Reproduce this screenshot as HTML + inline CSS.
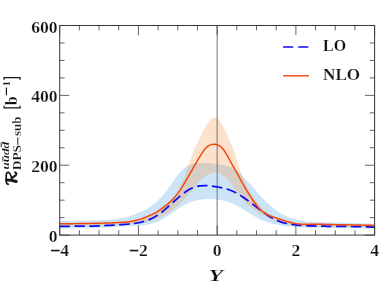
<!DOCTYPE html>
<html><head><meta charset="utf-8"><title>plot</title>
<style>
html,body{margin:0;padding:0;background:#fff;}
body{width:381px;height:288px;overflow:hidden;font-family:"Liberation Serif",serif;}
svg{display:block;will-change:transform;}
</style></head><body>
<svg width="381" height="288" viewBox="0 0 381 288">
<rect width="381" height="288" fill="#fff"/>
<clipPath id="c"><rect x="59.7" y="25.5" width="316.40000000000003" height="209.6"/></clipPath>
<g clip-path="url(#c)">
<path d="M59.70,221.13 L61.67,221.10 L63.64,221.07 L65.60,221.04 L67.57,221.00 L69.54,220.97 L71.51,220.94 L73.48,220.90 L75.44,220.86 L77.41,220.82 L79.38,220.78 L81.35,220.73 L83.32,220.69 L85.29,220.64 L87.25,220.59 L89.22,220.54 L91.19,220.49 L93.16,220.43 L95.13,220.37 L97.09,220.31 L99.06,220.25 L101.03,220.19 L103.00,220.12 L104.97,220.03 L106.94,219.93 L108.90,219.81 L110.87,219.66 L112.84,219.47 L114.81,219.25 L116.78,218.99 L118.74,218.68 L120.71,218.32 L122.68,217.91 L124.65,217.45 L126.62,216.94 L128.58,216.38 L130.55,215.77 L132.52,215.12 L134.49,214.43 L136.46,213.69 L138.43,212.92 L140.39,212.10 L142.36,211.21 L144.33,210.25 L146.30,209.19 L148.27,208.01 L150.23,206.69 L152.20,205.23 L154.17,203.64 L156.14,201.92 L158.11,200.08 L160.07,198.13 L162.04,196.06 L164.01,193.86 L165.98,191.50 L167.95,188.97 L169.92,186.24 L171.88,183.35 L173.85,180.42 L175.82,177.58 L177.79,174.95 L179.76,172.61 L181.72,170.54 L183.69,168.73 L185.66,167.18 L187.63,165.89 L189.60,164.88 L191.56,164.14 L193.53,163.62 L195.50,163.29 L197.47,163.09 L199.44,162.98 L201.41,162.93 L203.37,162.91 L205.34,162.93 L207.31,162.99 L209.28,163.10 L211.25,163.25 L213.21,163.45 L215.18,163.70 L217.15,164.00 L219.12,164.33 L221.09,164.71 L223.05,165.11 L225.02,165.55 L226.99,166.01 L228.96,166.55 L230.93,167.22 L232.90,168.07 L234.86,169.16 L236.83,170.53 L238.80,172.25 L240.77,174.24 L242.74,176.38 L244.70,178.51 L246.67,180.52 L248.64,182.48 L250.61,184.50 L252.58,186.68 L254.54,188.99 L256.51,191.34 L258.48,193.65 L260.45,195.88 L262.42,198.01 L264.39,200.03 L266.35,201.94 L268.32,203.76 L270.29,205.51 L272.26,207.19 L274.23,208.80 L276.19,210.30 L278.16,211.67 L280.13,212.93 L282.10,214.06 L284.07,215.09 L286.03,216.02 L288.00,216.86 L289.97,217.60 L291.94,218.27 L293.91,218.86 L295.88,219.38 L297.84,219.84 L299.81,220.25 L301.78,220.60 L303.75,220.91 L305.72,221.17 L307.68,221.40 L309.65,221.59 L311.62,221.75 L313.59,221.89 L315.56,222.00 L317.52,222.10 L319.49,222.18 L321.46,222.24 L323.43,222.30 L325.40,222.35 L327.37,222.39 L329.33,222.42 L331.30,222.46 L333.27,222.49 L335.24,222.52 L337.21,222.56 L339.17,222.60 L341.14,222.64 L343.11,222.69 L345.08,222.74 L347.05,222.80 L349.01,222.85 L350.98,222.92 L352.95,222.98 L354.92,223.05 L356.89,223.12 L358.86,223.19 L360.82,223.27 L362.79,223.36 L364.76,223.44 L366.73,223.53 L368.70,223.62 L370.66,223.72 L372.63,223.82 L374.60,223.92 L374.60,228.46 L372.63,228.44 L370.66,228.42 L368.70,228.40 L366.73,228.39 L364.76,228.37 L362.79,228.35 L360.82,228.34 L358.86,228.32 L356.89,228.30 L354.92,228.29 L352.95,228.27 L350.98,228.26 L349.01,228.24 L347.05,228.22 L345.08,228.21 L343.11,228.19 L341.14,228.17 L339.17,228.15 L337.21,228.13 L335.24,228.11 L333.27,228.09 L331.30,228.07 L329.33,228.04 L327.37,228.02 L325.40,227.99 L323.43,227.95 L321.46,227.91 L319.49,227.87 L317.52,227.82 L315.56,227.76 L313.59,227.70 L311.62,227.63 L309.65,227.56 L307.68,227.48 L305.72,227.40 L303.75,227.31 L301.78,227.21 L299.81,227.11 L297.84,227.00 L295.88,226.89 L293.91,226.77 L291.94,226.65 L289.97,226.51 L288.00,226.34 L286.03,226.15 L284.07,225.93 L282.10,225.67 L280.13,225.37 L278.16,225.02 L276.19,224.62 L274.23,224.16 L272.26,223.64 L270.29,223.08 L268.32,222.48 L266.35,221.83 L264.39,221.14 L262.42,220.38 L260.45,219.55 L258.48,218.63 L256.51,217.61 L254.54,216.49 L252.58,215.31 L250.61,214.07 L248.64,212.81 L246.67,211.53 L244.70,210.27 L242.74,209.04 L240.77,207.85 L238.80,206.71 L236.83,205.64 L234.86,204.65 L232.90,203.75 L230.93,202.94 L228.96,202.23 L226.99,201.60 L225.02,201.06 L223.05,200.59 L221.09,200.18 L219.12,199.82 L217.15,199.52 L215.18,199.28 L213.21,199.10 L211.25,198.98 L209.28,198.93 L207.31,198.95 L205.34,199.05 L203.37,199.22 L201.41,199.46 L199.44,199.78 L197.47,200.17 L195.50,200.63 L193.53,201.17 L191.56,201.81 L189.60,202.55 L187.63,203.40 L185.66,204.37 L183.69,205.44 L181.72,206.60 L179.76,207.82 L177.79,209.11 L175.82,210.43 L173.85,211.78 L171.88,213.14 L169.92,214.50 L167.95,215.82 L165.98,217.11 L164.01,218.33 L162.04,219.48 L160.07,220.54 L158.11,221.48 L156.14,222.29 L154.17,222.99 L152.20,223.58 L150.23,224.07 L148.27,224.48 L146.30,224.82 L144.33,225.10 L142.36,225.32 L140.39,225.51 L138.43,225.67 L136.46,225.81 L134.49,225.94 L132.52,226.05 L130.55,226.16 L128.58,226.25 L126.62,226.35 L124.65,226.44 L122.68,226.53 L120.71,226.62 L118.74,226.72 L116.78,226.82 L114.81,226.92 L112.84,227.03 L110.87,227.14 L108.90,227.25 L106.94,227.36 L104.97,227.47 L103.00,227.58 L101.03,227.67 L99.06,227.76 L97.09,227.85 L95.13,227.92 L93.16,227.99 L91.19,228.05 L89.22,228.10 L87.25,228.15 L85.29,228.19 L83.32,228.23 L81.35,228.26 L79.38,228.29 L77.41,228.31 L75.44,228.33 L73.48,228.35 L71.51,228.37 L69.54,228.39 L67.57,228.40 L65.60,228.42 L63.64,228.43 L61.67,228.45 L59.70,228.46Z" fill="#3498db" fill-opacity="0.25"/>
<path d="M59.70,223.22 L61.67,223.22 L63.64,223.21 L65.60,223.19 L67.57,223.18 L69.54,223.16 L71.51,223.14 L73.48,223.12 L75.44,223.10 L77.41,223.07 L79.38,223.05 L81.35,223.02 L83.32,222.99 L85.29,222.96 L87.25,222.93 L89.22,222.89 L91.19,222.85 L93.16,222.82 L95.13,222.78 L97.09,222.74 L99.06,222.70 L101.03,222.66 L103.00,222.61 L104.97,222.56 L106.94,222.51 L108.90,222.45 L110.87,222.38 L112.84,222.30 L114.81,222.22 L116.78,222.11 L118.74,222.00 L120.71,221.87 L122.68,221.72 L124.65,221.54 L126.62,221.33 L128.58,221.08 L130.55,220.78 L132.52,220.43 L134.49,220.03 L136.46,219.56 L138.43,219.03 L140.39,218.42 L142.36,217.75 L144.33,217.02 L146.30,216.24 L148.27,215.42 L150.23,214.56 L152.20,213.67 L154.17,212.70 L156.14,211.65 L158.11,210.47 L160.07,209.16 L162.04,207.74 L164.01,206.20 L165.98,204.57 L167.95,202.81 L169.92,200.87 L171.88,198.72 L173.85,196.36 L175.82,193.80 L177.79,191.00 L179.76,187.77 L181.72,183.84 L183.69,179.05 L185.66,173.62 L187.63,167.82 L189.60,161.95 L191.56,156.28 L193.53,151.08 L195.50,146.60 L197.47,142.73 L199.44,138.84 L201.41,134.78 L203.37,130.75 L205.34,127.00 L207.31,123.72 L209.28,121.04 L211.25,119.07 L213.21,117.95 L215.18,117.78 L217.15,118.61 L219.12,120.36 L221.09,122.95 L223.05,126.32 L225.02,130.35 L226.99,134.78 L228.96,139.26 L230.93,143.49 L232.90,148.01 L234.86,153.66 L236.83,159.99 L238.80,166.31 L240.77,172.22 L242.74,177.48 L244.70,182.10 L246.67,186.13 L248.64,189.69 L250.61,192.95 L252.58,196.06 L254.54,199.02 L256.51,201.77 L258.48,204.27 L260.45,206.52 L262.42,208.53 L264.39,210.30 L266.35,211.83 L268.32,213.16 L270.29,214.32 L272.26,215.34 L274.23,216.26 L276.19,217.11 L278.16,217.92 L280.13,218.70 L282.10,219.43 L284.07,220.11 L286.03,220.75 L288.00,221.33 L289.97,221.86 L291.94,222.32 L293.91,222.72 L295.88,223.05 L297.84,223.30 L299.81,223.50 L301.78,223.63 L303.75,223.72 L305.72,223.77 L307.68,223.79 L309.65,223.79 L311.62,223.77 L313.59,223.76 L315.56,223.75 L317.52,223.75 L319.49,223.76 L321.46,223.79 L323.43,223.82 L325.40,223.86 L327.37,223.90 L329.33,223.95 L331.30,224.00 L333.27,224.05 L335.24,224.10 L337.21,224.14 L339.17,224.18 L341.14,224.22 L343.11,224.25 L345.08,224.28 L347.05,224.32 L349.01,224.35 L350.98,224.38 L352.95,224.41 L354.92,224.45 L356.89,224.48 L358.86,224.52 L360.82,224.56 L362.79,224.60 L364.76,224.65 L366.73,224.70 L368.70,224.76 L370.66,224.82 L372.63,224.89 L374.60,224.97 L374.60,227.07 L372.63,226.98 L370.66,226.91 L368.70,226.85 L366.73,226.81 L364.76,226.77 L362.79,226.75 L360.82,226.73 L358.86,226.72 L356.89,226.72 L354.92,226.72 L352.95,226.72 L350.98,226.73 L349.01,226.73 L347.05,226.74 L345.08,226.75 L343.11,226.75 L341.14,226.75 L339.17,226.74 L337.21,226.73 L335.24,226.72 L333.27,226.69 L331.30,226.66 L329.33,226.62 L327.37,226.58 L325.40,226.54 L323.43,226.50 L321.46,226.46 L319.49,226.42 L317.52,226.39 L315.56,226.37 L313.59,226.35 L311.62,226.34 L309.65,226.32 L307.68,226.30 L305.72,226.26 L303.75,226.20 L301.78,226.12 L299.81,226.01 L297.84,225.86 L295.88,225.67 L293.91,225.43 L291.94,225.14 L289.97,224.81 L288.00,224.43 L286.03,224.00 L284.07,223.52 L282.10,223.00 L280.13,222.42 L278.16,221.80 L276.19,221.13 L274.23,220.41 L272.26,219.63 L270.29,218.81 L268.32,217.93 L266.35,216.99 L264.39,215.99 L262.42,214.93 L260.45,213.80 L258.48,212.61 L256.51,211.35 L254.54,210.01 L252.58,208.58 L250.61,207.06 L248.64,205.42 L246.67,203.66 L244.70,201.75 L242.74,199.68 L240.77,197.40 L238.80,194.90 L236.83,192.13 L234.86,189.14 L232.90,186.16 L230.93,183.41 L228.96,181.01 L226.99,178.95 L225.02,177.11 L223.05,175.40 L221.09,173.97 L219.12,172.99 L217.15,172.50 L215.18,172.45 L213.21,172.76 L211.25,173.32 L209.28,174.10 L207.31,175.10 L205.34,176.34 L203.37,177.82 L201.41,179.55 L199.44,181.54 L197.47,183.75 L195.50,186.10 L193.53,188.51 L191.56,190.88 L189.60,193.19 L187.63,195.42 L185.66,197.59 L183.69,199.67 L181.72,201.67 L179.76,203.59 L177.79,205.41 L175.82,207.13 L173.85,208.75 L171.88,210.28 L169.92,211.71 L167.95,213.05 L165.98,214.29 L164.01,215.44 L162.04,216.50 L160.07,217.46 L158.11,218.33 L156.14,219.11 L154.17,219.81 L152.20,220.43 L150.23,220.98 L148.27,221.47 L146.30,221.90 L144.33,222.29 L142.36,222.63 L140.39,222.94 L138.43,223.22 L136.46,223.48 L134.49,223.72 L132.52,223.94 L130.55,224.15 L128.58,224.33 L126.62,224.49 L124.65,224.64 L122.68,224.77 L120.71,224.88 L118.74,224.97 L116.78,225.04 L114.81,225.11 L112.84,225.15 L110.87,225.19 L108.90,225.22 L106.94,225.24 L104.97,225.26 L103.00,225.28 L101.03,225.30 L99.06,225.32 L97.09,225.34 L95.13,225.37 L93.16,225.41 L91.19,225.44 L89.22,225.48 L87.25,225.52 L85.29,225.56 L83.32,225.60 L81.35,225.63 L79.38,225.67 L77.41,225.70 L75.44,225.72 L73.48,225.74 L71.51,225.76 L69.54,225.77 L67.57,225.77 L65.60,225.76 L63.64,225.74 L61.67,225.71 L59.70,225.67Z" fill="#f58a2e" fill-opacity="0.25"/>
<path d="M217.15,235.1 V25.5" stroke="#5e5e5e" stroke-width="0.85" fill="none"/>
<path d="M59.70,226.37 L61.67,226.33 L63.64,226.31 L65.60,226.28 L67.57,226.26 L69.54,226.25 L71.51,226.24 L73.48,226.22 L75.44,226.21 L77.41,226.20 L79.38,226.19 L81.35,226.18 L83.32,226.16 L85.29,226.14 L87.25,226.12 L89.22,226.09 L91.19,226.06 L93.16,226.02 L95.13,225.97 L97.09,225.91 L99.06,225.84 L101.03,225.77 L103.00,225.68 L104.97,225.59 L106.94,225.49 L108.90,225.38 L110.87,225.27 L112.84,225.15 L114.81,225.04 L116.78,224.92 L118.74,224.79 L120.71,224.67 L122.68,224.55 L124.65,224.41 L126.62,224.25 L128.58,224.08 L130.55,223.88 L132.52,223.64 L134.49,223.37 L136.46,223.06 L138.43,222.70 L140.39,222.28 L142.36,221.81 L144.33,221.26 L146.30,220.64 L148.27,219.93 L150.23,219.13 L152.20,218.23 L154.17,217.22 L156.14,216.09 L158.11,214.84 L160.07,213.46 L162.04,211.96 L164.01,210.37 L165.98,208.69 L167.95,206.96 L169.92,205.19 L171.88,203.40 L173.85,201.60 L175.82,199.82 L177.79,198.07 L179.76,196.37 L181.72,194.74 L183.69,193.20 L185.66,191.77 L187.63,190.46 L189.60,189.29 L191.56,188.27 L193.53,187.44 L195.50,186.79 L197.47,186.31 L199.44,185.97 L201.41,185.77 L203.37,185.67 L205.34,185.67 L207.31,185.74 L209.28,185.87 L211.25,186.06 L213.21,186.30 L215.18,186.58 L217.15,186.89 L219.12,187.24 L221.09,187.62 L223.05,188.05 L225.02,188.54 L226.99,189.10 L228.96,189.74 L230.93,190.47 L232.90,191.31 L234.86,192.24 L236.83,193.28 L238.80,194.41 L240.77,195.62 L242.74,196.92 L244.70,198.28 L246.67,199.69 L248.64,201.15 L250.61,202.63 L252.58,204.13 L254.54,205.64 L256.51,207.15 L258.48,208.66 L260.45,210.14 L262.42,211.59 L264.39,213.00 L266.35,214.37 L268.32,215.67 L270.29,216.90 L272.26,218.06 L274.23,219.12 L276.19,220.08 L278.16,220.93 L280.13,221.68 L282.10,222.34 L284.07,222.91 L286.03,223.40 L288.00,223.82 L289.97,224.18 L291.94,224.49 L293.91,224.75 L295.88,224.97 L297.84,225.16 L299.81,225.33 L301.78,225.47 L303.75,225.59 L305.72,225.69 L307.68,225.78 L309.65,225.85 L311.62,225.91 L313.59,225.97 L315.56,226.02 L317.52,226.06 L319.49,226.11 L321.46,226.15 L323.43,226.19 L325.40,226.23 L327.37,226.26 L329.33,226.29 L331.30,226.32 L333.27,226.35 L335.24,226.37 L337.21,226.39 L339.17,226.40 L341.14,226.42 L343.11,226.43 L345.08,226.44 L347.05,226.46 L349.01,226.47 L350.98,226.49 L352.95,226.51 L354.92,226.54 L356.89,226.57 L358.86,226.61 L360.82,226.66 L362.79,226.71 L364.76,226.77 L366.73,226.84 L368.70,226.92 L370.66,227.02 L372.63,227.12 L374.60,227.24" stroke="#0c0cf4" stroke-width="1.75" fill="none" stroke-dasharray="10.35 4.56" stroke-dashoffset="0.1"/>
<path d="M59.70,223.75 L61.67,223.74 L63.64,223.72 L65.60,223.71 L67.57,223.70 L69.54,223.68 L71.51,223.66 L73.48,223.64 L75.44,223.62 L77.41,223.60 L79.38,223.57 L81.35,223.55 L83.32,223.52 L85.29,223.49 L87.25,223.46 L89.22,223.42 L91.19,223.39 L93.16,223.35 L95.13,223.31 L97.09,223.27 L99.06,223.22 L101.03,223.18 L103.00,223.13 L104.97,223.07 L106.94,223.02 L108.90,222.95 L110.87,222.88 L112.84,222.81 L114.81,222.72 L116.78,222.63 L118.74,222.52 L120.71,222.41 L122.68,222.27 L124.65,222.12 L126.62,221.93 L128.58,221.70 L130.55,221.42 L132.52,221.09 L134.49,220.71 L136.46,220.26 L138.43,219.73 L140.39,219.13 L142.36,218.45 L144.33,217.72 L146.30,216.94 L148.27,216.12 L150.23,215.27 L152.20,214.38 L154.17,213.42 L156.14,212.36 L158.11,211.17 L160.07,209.84 L162.04,208.40 L164.01,206.91 L165.98,205.41 L167.95,203.84 L169.92,202.15 L171.88,200.29 L173.85,198.19 L175.82,195.87 L177.79,193.32 L179.76,190.57 L181.72,187.61 L183.69,184.47 L185.66,181.17 L187.63,177.76 L189.60,174.28 L191.56,170.79 L193.53,167.35 L195.50,163.98 L197.47,160.67 L199.44,157.41 L201.41,154.18 L203.37,151.15 L205.34,148.56 L207.31,146.62 L209.28,145.33 L211.25,144.58 L213.21,144.28 L215.18,144.33 L217.15,144.71 L219.12,145.55 L221.09,146.95 L223.05,149.04 L225.02,151.80 L226.99,155.05 L228.96,158.60 L230.93,162.24 L232.90,165.80 L234.86,169.23 L236.83,172.72 L238.80,176.37 L240.77,180.09 L242.74,183.74 L244.70,187.20 L246.67,190.44 L248.64,193.54 L250.61,196.58 L252.58,199.60 L254.54,202.52 L256.51,205.24 L258.48,207.68 L260.45,209.75 L262.42,211.49 L264.39,212.94 L266.35,214.14 L268.32,215.14 L270.29,215.98 L272.26,216.70 L274.23,217.35 L276.19,217.98 L278.16,218.62 L280.13,219.27 L282.10,219.92 L284.07,220.55 L286.03,221.17 L288.00,221.75 L289.97,222.30 L291.94,222.79 L293.91,223.22 L295.88,223.57 L297.84,223.85 L299.81,224.05 L301.78,224.20 L303.75,224.29 L305.72,224.33 L307.68,224.35 L309.65,224.34 L311.62,224.32 L313.59,224.29 L315.56,224.27 L317.52,224.27 L319.49,224.28 L321.46,224.30 L323.43,224.33 L325.40,224.37 L327.37,224.42 L329.33,224.47 L331.30,224.52 L333.27,224.57 L335.24,224.62 L337.21,224.67 L339.17,224.71 L341.14,224.74 L343.11,224.78 L345.08,224.81 L347.05,224.84 L349.01,224.87 L350.98,224.91 L352.95,224.94 L354.92,224.97 L356.89,225.00 L358.86,225.04 L360.82,225.08 L362.79,225.12 L364.76,225.17 L366.73,225.22 L368.70,225.28 L370.66,225.34 L372.63,225.42 L374.60,225.49" stroke="#f6440c" stroke-width="1.45" fill="none"/>
</g>
<path d="M59.70,235.1 v-9.7 M59.70,25.5 v9.7 M79.38,235.1 v-4.9 M79.38,25.5 v4.9 M99.06,235.1 v-4.9 M99.06,25.5 v4.9 M118.74,235.1 v-4.9 M118.74,25.5 v4.9 M138.43,235.1 v-9.7 M138.43,25.5 v9.7 M158.11,235.1 v-4.9 M158.11,25.5 v4.9 M177.79,235.1 v-4.9 M177.79,25.5 v4.9 M197.47,235.1 v-4.9 M197.47,25.5 v4.9 M217.15,235.1 v-9.7 M217.15,25.5 v9.7 M236.83,235.1 v-4.9 M236.83,25.5 v4.9 M256.51,235.1 v-4.9 M256.51,25.5 v4.9 M276.19,235.1 v-4.9 M276.19,25.5 v4.9 M295.88,235.1 v-9.7 M295.88,25.5 v9.7 M315.56,235.1 v-4.9 M315.56,25.5 v4.9 M335.24,235.1 v-4.9 M335.24,25.5 v4.9 M354.92,235.1 v-4.9 M354.92,25.5 v4.9 M374.60,235.1 v-9.7 M374.60,25.5 v9.7 M59.7,235.10 h9.7 M374.6,235.10 h-9.7 M59.7,217.63 h4.9 M374.6,217.63 h-4.9 M59.7,200.17 h4.9 M374.6,200.17 h-4.9 M59.7,182.70 h4.9 M374.6,182.70 h-4.9 M59.7,165.23 h9.7 M374.6,165.23 h-9.7 M59.7,147.77 h4.9 M374.6,147.77 h-4.9 M59.7,130.30 h4.9 M374.6,130.30 h-4.9 M59.7,112.83 h4.9 M374.6,112.83 h-4.9 M59.7,95.37 h9.7 M374.6,95.37 h-9.7 M59.7,77.90 h4.9 M374.6,77.90 h-4.9 M59.7,60.43 h4.9 M374.6,60.43 h-4.9 M59.7,42.97 h4.9 M374.6,42.97 h-4.9 M59.7,25.50 h9.7 M374.6,25.50 h-9.7" stroke="#3d3d3d" stroke-width="0.8" fill="none"/>
<rect x="59.7" y="25.5" width="314.90000000000003" height="209.6" fill="none" stroke="#3d3d3d" stroke-width="1.05"/>
<path d="M283.1,46.9 h10.1 m5,0 h10.1" stroke="#0c0cf4" stroke-width="1.5" fill="none"/>
<path d="M283.1,75.8 h25.9" stroke="#f6440c" stroke-width="1.4" fill="none"/>
<g font-family="Liberation Serif, serif" font-weight="bold" fill="#111" stroke="#fff" stroke-width="0.2">
<text transform="translate(57.50,32.60) scale(1.1,1)" font-size="16" text-anchor="end"  style="">600</text>
<text transform="translate(57.50,102.47) scale(1.1,1)" font-size="16" text-anchor="end"  style="">400</text>
<text transform="translate(57.50,172.33) scale(1.1,1)" font-size="16" text-anchor="end"  style="">200</text>
<text transform="translate(57.50,242.20) scale(1.1,1)" font-size="16" text-anchor="end"  style="">0</text>
<text transform="translate(59.70,256.30) scale(1.1,1)" font-size="16" text-anchor="middle"  style=""><tspan stroke="#111" stroke-width="0.35">−</tspan>4</text>
<text transform="translate(138.43,256.30) scale(1.1,1)" font-size="16" text-anchor="middle"  style=""><tspan stroke="#111" stroke-width="0.35">−</tspan>2</text>
<text transform="translate(217.15,256.30) scale(1.1,1)" font-size="16" text-anchor="middle"  style="">0</text>
<text transform="translate(295.88,256.30) scale(1.1,1)" font-size="16" text-anchor="middle"  style="">2</text>
<text transform="translate(374.60,256.30) scale(1.1,1)" font-size="16" text-anchor="middle"  style="">4</text>
<text transform="translate(323.00,50.60) scale(0.94,1)" font-size="17" text-anchor="start"  style="">LO</text>
<text transform="translate(323.00,79.60) scale(1.01,1)" font-size="17" text-anchor="start"  style="">NLO</text>
<text transform="translate(215.70,280.70) scale(1.4,1)" font-size="17" text-anchor="middle"  style="font-style:italic">Y</text>
<g transform="translate(17.2,185.5) rotate(-90)">
<g fill="none" stroke="#151515" stroke-linecap="round" stroke-linejoin="round">
<path d="M1.2,-8.9 C1.3,-10.4 2.8,-11.0 5,-11.0 L9.5,-11.0 C12,-11.0 13.4,-10.2 13.2,-8.8 C13.0,-7.3 10,-6.2 6.8,-5.4" stroke-width="1.7"/>
<path d="M5.6,-10.7 C5.5,-7 4.8,-3.5 4.0,-0.9" stroke-width="2.9"/>
<path d="M6.8,-5.4 C8.3,-4.8 9.2,-2.8 10.2,-1.5 C11.2,-0.4 12.6,-0.6 13.1,-2.0" stroke-width="2.1"/>
</g>
<text transform="translate(16.00,-8.30) scale(1.285,1)" font-size="10.2" text-anchor="start" stroke-width="0.1" style="font-style:italic">uudd</text>
<path d="M24.2,-14.3 h4.6 M38.2,-16.0 h4.8" stroke="#151515" stroke-width="0.9" fill="none"/>
<text transform="translate(15.20,3.80) scale(1.15,1)" font-size="11.7" text-anchor="start"  style="">DPS</text>
<path d="M40.6,0.6 h7.4" stroke="#151515" stroke-width="0.95" fill="none"/>
<text transform="translate(49.60,3.80) scale(1.1,1)" font-size="11.7" text-anchor="start"  style="">sub</text>
<path d="M79.7,-13.1 H77.6 V2.9 H79.7 M105.8,-13.1 H107.9 V2.9 H105.8" fill="none" stroke="#151515" stroke-width="1.25"/>
<text transform="translate(80.30,0.00) scale(0.95,1)" font-size="17" text-anchor="start"  style="">b</text>
<path d="M90.3,-10.8 H98.1" fill="none" stroke="#151515" stroke-width="1.15"/>
<text transform="translate(99.00,-7.30) scale(1.05,1)" font-size="11" text-anchor="start"  style="">1</text>
</g>
</g>
</svg>
</body></html>
